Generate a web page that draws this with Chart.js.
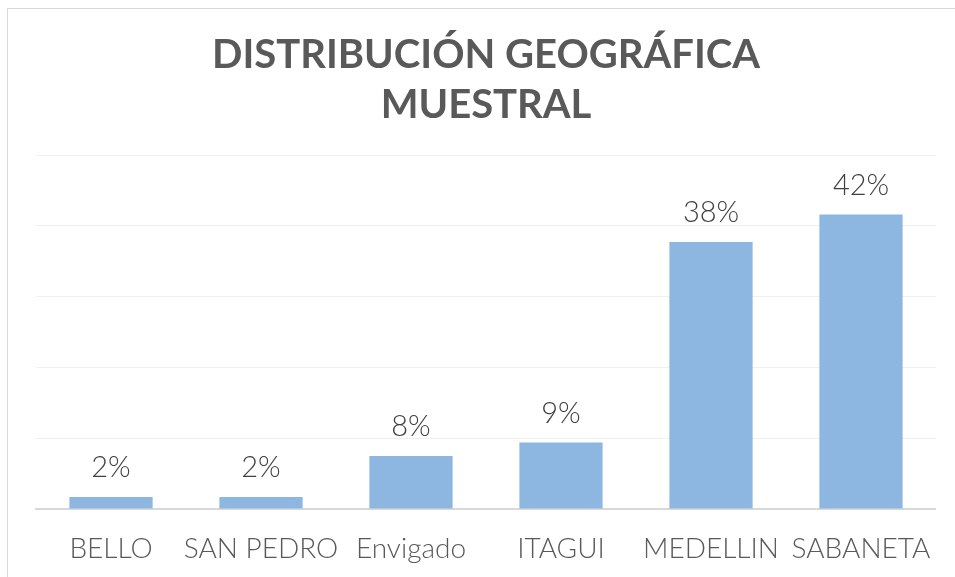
<!DOCTYPE html>
<html>
<head>
<meta charset="utf-8">
<script src="https://cdn.jsdelivr.net/npm/chart.js@4/dist/chart.umd.min.js"></script>
<style>
html,body{margin:0;padding:0;background:#fff;}
#wrap{position:relative;width:955px;height:577px;}
</style>
</head>
<body>
<div id="wrap"><canvas id="c" width="955" height="577"></canvas></div>
<script>
const titleLines = ['DISTRIBUCIÓN GEOGRÁFICA', 'MUESTRAL'];
const categories = ['BELLO', 'SAN PEDRO', 'Envigado', 'ITAGUI', 'MEDELLIN', 'SABANETA'];
const values = [1.7, 1.7, 7.5, 9.4, 37.7, 41.6];
const valueLabels = ['2%', '2%', '8%', '9%', '38%', '42%'];
const yMax = 50;
const yStep = 10;

const borderPlugin = {
  id: 'outerBorder',
  afterDraw(chart) {
    const ctx = chart.ctx;
    ctx.save();
    ctx.strokeStyle = '#d9d9d9';
    ctx.lineWidth = 1;
    ctx.strokeRect(7.5, 8.5, 1000, 1000);
    ctx.restore();
  }
};

const labelPlugin = {
  id: 'valueLabels',
  afterDatasetsDraw(chart) {
    const ctx = chart.ctx;
    const meta = chart.getDatasetMeta(0);
    ctx.save();
    ctx.font = '300 29px Lato';
    ctx.fillStyle = '#404040';
    ctx.textAlign = 'center';
    ctx.textBaseline = 'middle';
    meta.data.forEach((bar, i) => {
      ctx.fillText(valueLabels[i], bar.x, bar.y - 29);
    });
    ctx.restore();
  }
};

new Chart(document.getElementById('c'), {
  type: 'bar',
  data: {
    labels: categories,
    datasets: [{
      data: values,
      backgroundColor: '#8db7e1',
      borderWidth: 0,
      categoryPercentage: 1,
      barPercentage: 0.555
    }]
  },
  options: {
    responsive: false,
    animation: false,
    devicePixelRatio: 1,
    layout: { padding: { left: 36, right: 19, top: 0, bottom: 0 } },
    plugins: {
      legend: { display: false },
      tooltip: { enabled: false },
      title: {
        display: true,
        text: titleLines,
        color: '#595959',
        font: { family: 'Lato', size: 40, weight: 'bold', lineHeight: 1.25 },
        padding: { top: 30, bottom: 25 }
      }
    },
    scales: {
      x: {
        grid: { display: false, drawTicks: false },
        border: { display: true, color: '#d9d9d9', width: 2 },
        ticks: {
          color: '#595959',
          font: { family: 'Lato', size: 28, weight: '300' },
          padding: 23,
          autoSkip: false,
          maxRotation: 0,
          minRotation: 0
        },
        afterFit(scale) { scale.height = 68; }
      },
      y: {
        min: 0,
        max: yMax,
        ticks: { display: false, stepSize: yStep },
        grid: { color: '#f0f0f0', lineWidth: 1, drawTicks: false },
        border: { display: false },
        afterFit(scale) { scale.width = 0; }
      }
    }
  },
  plugins: [borderPlugin, labelPlugin]
});
</script>
</body>
</html>
